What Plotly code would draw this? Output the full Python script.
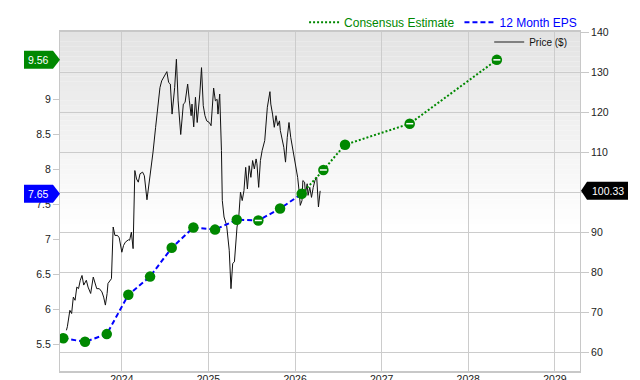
import plotly.graph_objects as go

# ---------------- data ----------------
eps_x = [2023.324, 2023.575, 2023.826, 2024.075, 2024.326, 2024.576, 2024.826,
         2025.076, 2025.327, 2025.576, 2025.827, 2026.077]
eps_y = [5.59, 5.54, 5.65, 6.21, 6.47, 6.88, 7.17, 7.14, 7.28, 7.27, 7.44, 7.65]

cons_x = [2026.077, 2026.327, 2026.577, 2027.324, 2028.33]
cons_y = [7.65, 7.99, 8.35, 8.65, 9.56]

price_x = [2023.36, 2023.371, 2023.40, 2023.42, 2023.44, 2023.46, 2023.48, 2023.50, 2023.52,
           2023.54, 2023.56, 2023.59, 2023.61, 2023.64, 2023.67, 2023.69, 2023.71, 2023.74,
           2023.77, 2023.79, 2023.81, 2023.83, 2023.84, 2023.88, 2023.90, 2023.92, 2023.95,
           2023.97, 2024.00, 2024.02, 2024.04, 2024.075, 2024.09, 2024.11, 2024.13, 2024.15,
           2024.17, 2024.19, 2024.21, 2024.24, 2024.26, 2024.29, 2024.33, 2024.35, 2024.36,
           2024.39, 2024.41, 2024.42, 2024.44, 2024.46, 2024.49, 2024.52, 2024.54, 2024.56,
           2024.58, 2024.61, 2024.63, 2024.65, 2024.68, 2024.71, 2024.73, 2024.76, 2024.78,
           2024.80, 2024.81, 2024.83, 2024.85, 2024.87, 2024.90, 2024.92, 2024.94, 2024.96,
           2024.98, 2025.01, 2025.03, 2025.06, 2025.08, 2025.10, 2025.11, 2025.13, 2025.15,
           2025.16, 2025.18, 2025.21, 2025.24, 2025.26, 2025.28, 2025.30, 2025.33, 2025.35,
           2025.37, 2025.39, 2025.41, 2025.43, 2025.45, 2025.47, 2025.49, 2025.51, 2025.53,
           2025.55, 2025.56, 2025.58, 2025.60, 2025.62, 2025.65, 2025.68, 2025.71, 2025.72,
           2025.74, 2025.76, 2025.78, 2025.80, 2025.82, 2025.83, 2025.87, 2025.89, 2025.91,
           2025.93, 2025.95, 2025.97, 2025.99, 2026.01, 2026.03, 2026.05, 2026.06, 2026.08,
           2026.09, 2026.11, 2026.12, 2026.14, 2026.15, 2026.17, 2026.19, 2026.21, 2026.23,
           2026.25, 2026.26, 2026.27, 2026.29]
price_y = [65.5, 66.4, 70.5, 69.7, 73.8, 73.0, 76.3, 75.9, 78.0,
           79.2, 76.8, 78.0, 76.3, 74.7, 78.8, 77.2, 75.9, 75.9,
           75.1, 73.8, 71.8, 74.7, 77.2, 78.4, 91.3, 89.2, 89.2,
           88.6, 85.0, 86.7, 87.5, 88.1, 88.0, 90.0, 85.9, 105.4,
           103.3, 102.5, 104.6, 105.0, 104.1, 98.1, 104.6, 107.9, 110.0,
           116.2, 120.3, 120.8, 126.1, 127.8, 129.0, 130.1, 127.4, 127.0,
           119.5, 126.1, 133.2, 122.8, 114.4, 122.0, 122.4, 127.0, 122.8,
           119.1, 122.0, 116.3, 123.7, 117.4, 124.5, 131.1, 121.6, 119.1,
           117.8, 117.4, 116.6, 126.0, 122.8, 123.2, 119.5, 124.5, 110.4,
           97.9, 93.8, 91.7, 85.5, 75.9, 82.2, 82.6, 91.3, 93.8,
           100.0, 97.9, 100.4, 106.2, 100.8, 106.6, 103.7, 107.9, 105.8,
           108.3, 107.1, 101.2, 107.9, 110.4, 112.9, 121.2, 125.1, 122.0,
           119.5, 116.2, 119.1, 116.6, 117.8, 115.4, 111.2, 107.5, 113.7,
           117.4, 113.7, 111.2, 107.9, 105.8, 103.7, 99.6, 96.7, 97.9,
           102.9, 102.5, 99.6, 102.1, 99.2, 101.2, 98.7, 101.2, 102.9,
           103.7, 100.0, 96.3, 100.33]

year_ticks = [2024, 2025, 2026, 2027, 2028, 2029]
eps_ticks = [5.5, 6, 6.5, 7, 7.5, 8, 8.5, 9]
price_ticks = [60, 70, 80, 90, 100, 110, 120, 130, 140]

# marker indices showing a "minus" glyph
eps_minus = [9]
cons_minus = [1, 3, 4]

# ---------------- styling ----------------
GREEN = "#008800"
BLUE = "#0000ff"
FONT = "Liberation Sans, Arial, sans-serif"
X_RANGE = [2023.286, 2029.29]
EPS_RANGE = [5.124, 9.957]
PRICE_RANGE = [55.34, 140]

fig = go.Figure()

# price on primary y (drawn underneath)
fig.add_trace(go.Scatter(x=price_x, y=price_y, mode="lines", name="Price ($)",
                         line=dict(color="#111111", width=1), yaxis="y",
                         legend="legend2", showlegend=False))
# legend-only sample for price
fig.add_trace(go.Scatter(x=[None], y=[None], mode="lines", name="Price ($)",
                         line=dict(color="#808080", width=2), yaxis="y",
                         legend="legend2", showlegend=True))

# consensus estimate line
fig.add_trace(go.Scatter(x=cons_x, y=cons_y, mode="lines",
                         name="<span style='color:%s'>Consensus Estimate</span>" % GREEN,
                         line=dict(color=GREEN, width=2, dash="2px,2px"), yaxis="y2",
                         legendrank=1))
# 12 month EPS line
fig.add_trace(go.Scatter(x=eps_x, y=eps_y, mode="lines",
                         name="<span style='color:%s'>12 Month EPS</span>" % BLUE,
                         line=dict(color=BLUE, width=2, dash="5px,3px"), yaxis="y2",
                         legendrank=2))
# markers
fig.add_trace(go.Scatter(x=eps_x, y=eps_y, mode="markers", showlegend=False,
                         marker=dict(color=GREEN, size=10.5), yaxis="y2"))
fig.add_trace(go.Scatter(x=cons_x[1:], y=cons_y[1:], mode="markers", showlegend=False,
                         marker=dict(color=GREEN, size=10.5), yaxis="y2"))
fig.add_trace(go.Scatter(x=[eps_x[i] for i in eps_minus] + [cons_x[i] for i in cons_minus],
                         y=[eps_y[i] for i in eps_minus] + [cons_y[i] for i in cons_minus],
                         mode="markers", showlegend=False, yaxis="y2",
                         marker=dict(symbol="line-ew", size=5, color="white",
                                     line=dict(color="white", width=1.5))))

# ---------------- background gradient (plot area) ----------------
shapes = []
n = 40
g_top, g_bot = 1.0, 0.42
for i in range(n):
    y0 = g_bot + (g_top - g_bot) * i / n
    y1 = g_bot + (g_top - g_bot) * (i + 1) / n
    t = (i + 0.5) / n
    c = int(round(255 - (255 - 227) * t))
    shapes.append(dict(type="rect", xref="paper", yref="paper", x0=0, x1=1, y0=y0, y1=y1,
                       fillcolor="rgb(%d,%d,%d)" % (c, c, c), line=dict(width=0), layer="below"))


def frac(v, rng):
    return (v - rng[0]) / (rng[1] - rng[0])


# value tags
tags = [
    (cons_y[-1], EPS_RANGE, GREEN, "left"),
    (eps_y[-1], EPS_RANGE, BLUE, "left"),
    (price_y[-1], PRICE_RANGE, "#000000", "right"),
]
annotations = []
for val, rng, col, side in tags:
    py = frac(val, rng)
    if side == "left":
        path = "M -36,-9 L -7,-9 L 0,0 L -7,9 L -36,9 Z"
        ax, xs = 0, -21.5
    else:
        path = "M 1,0 L 7,-9 L 48,-9 L 48,9 L 7,9 Z"
        ax, xs = 1, 27.5
    shapes.append(dict(type="path", xref="paper", yref="paper", xsizemode="pixel",
                       ysizemode="pixel", xanchor=ax, yanchor=py, path=path,
                       fillcolor=col, line=dict(width=0), layer="above"))
    annotations.append(dict(xref="paper", yref="paper", x=ax, y=py, xshift=xs,
                            xanchor="center", yanchor="middle", showarrow=False,
                            text=("%.2f" % val), font=dict(color="white", size=10.5, family=FONT)))

fig.update_layout(
    width=640, height=380,
    margin=dict(l=60, r=60, t=31, b=9),
    paper_bgcolor="white", plot_bgcolor="rgba(0,0,0,0)",
    font=dict(family=FONT, size=10, color="#222222"),
    shapes=shapes, annotations=annotations,
    xaxis=dict(range=X_RANGE, tickvals=year_ticks, ticktext=[str(v) for v in year_ticks],
               showgrid=True, gridcolor="#cccccc", gridwidth=1, zeroline=False,
               showline=True, linecolor="#c8c8c8", linewidth=2, mirror=True,
               ticks="", ticklen=0, ticklabelstandoff=-3,
               tickfont=dict(size=10.5, color="#222222"), automargin=False),
    yaxis=dict(range=PRICE_RANGE, side="right", tickvals=price_ticks,
               showgrid=True, gridcolor="#cccccc", gridwidth=1, zeroline=False,
               showline=True, linecolor="#c8c8c8", linewidth=1,
               ticks="outside", ticklen=8, tickcolor="#c8c8c8",
               tickfont=dict(size=10.5, color="#222222"), automargin=False),
    yaxis2=dict(range=EPS_RANGE, side="left", overlaying="y", tickvals=eps_ticks,
                ticktext=[("%g" % v) for v in eps_ticks], showgrid=False, zeroline=False,
                showline=True, linecolor="#c8c8c8", linewidth=1,
                ticks="outside", ticklen=6, tickcolor="#c8c8c8",
                tickfont=dict(size=10.5, color="#222222"), automargin=False),
    legend=dict(orientation="h", x=1.004, xanchor="right", y=1.026, yanchor="middle",
                font=dict(size=12, family=FONT), bgcolor="rgba(0,0,0,0)",
                itemwidth=30, traceorder="normal", tracegroupgap=0),
    legend2=dict(x=0.985, xanchor="right", y=0.968, yanchor="middle",
                 font=dict(size=10, family=FONT, color="#111111"),
                 bgcolor="rgba(0,0,0,0)", itemwidth=30),
    showlegend=True,
)

fig.write_html("out.html", config={"displayModeBar": False})
